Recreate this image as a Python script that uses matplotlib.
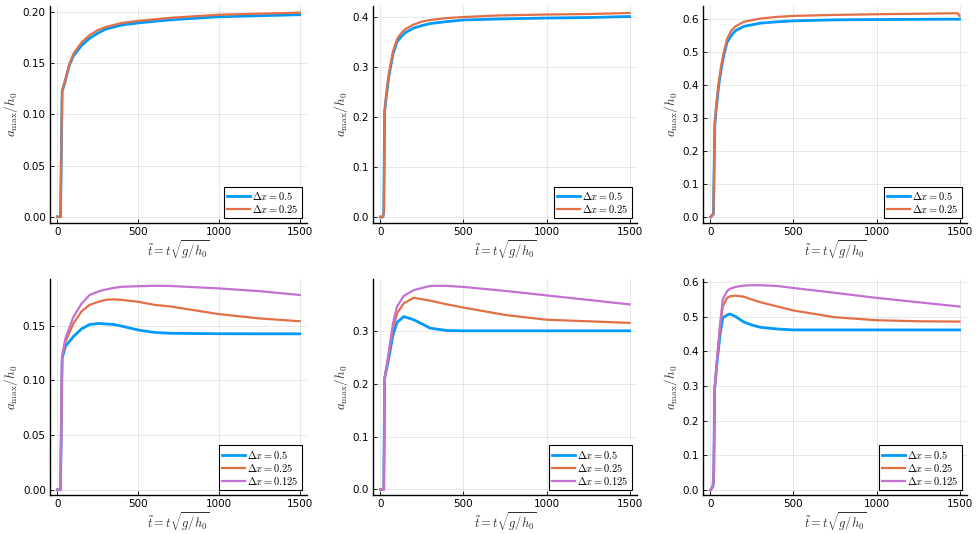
import matplotlib.pyplot as plt
import numpy as np

plt.rcParams['mathtext.fontset'] = 'cm'
plt.rcParams['font.family'] = 'DejaVu Sans'

BLUE = '#009AFA'
ORANGE = '#E36F47'
PURPLE = '#C371D2'

# ---- top row: two resolutions ----
t_tl = [0, 20, 25, 30, 50, 75, 100, 150, 200, 250, 300, 400, 500, 700, 1000, 1250, 1500]
tl_05 = [0, 0, 0.06, 0.122, 0.133, 0.148, 0.157, 0.167, 0.174, 0.179, 0.183, 0.187, 0.189, 0.192, 0.195, 0.196, 0.197]
tl_025 = [0, 0, 0.06, 0.123, 0.134, 0.149, 0.159, 0.170, 0.177, 0.182, 0.185, 0.189, 0.191, 0.194, 0.197, 0.198, 0.199]

t_tm = [0, 15, 20, 25, 35, 50, 75, 100, 125, 150, 200, 250, 300, 400, 500, 700, 1000, 1250, 1500]
tm_05 = [0, 0, 0.01, 0.21, 0.24, 0.28, 0.325, 0.35, 0.36, 0.368, 0.377, 0.382, 0.386, 0.39, 0.393, 0.395, 0.397, 0.398, 0.400]
tm_025 = [0, 0, 0.01, 0.21, 0.245, 0.285, 0.33, 0.355, 0.367, 0.375, 0.384, 0.39, 0.393, 0.397, 0.399, 0.402, 0.404, 0.405, 0.407]

t_tr = [0, 10, 18, 22, 26, 35, 50, 65, 80, 100, 125, 150, 200, 300, 400, 500, 750, 1000, 1490, 1500]
tr_05 = [0, 0.005, 0.01, 0.15, 0.28, 0.33, 0.40, 0.45, 0.49, 0.53, 0.55, 0.565, 0.578, 0.588, 0.592, 0.595, 0.598, 0.599, 0.600, 0.600]
tr_025 = [0, 0.005, 0.01, 0.15, 0.28, 0.34, 0.41, 0.46, 0.50, 0.54, 0.565, 0.578, 0.592, 0.602, 0.607, 0.610, 0.613, 0.615, 0.618, 0.610]

# ---- bottom row: three resolutions ----
t_bl = [0, 20, 25, 30, 50, 100, 150, 200, 260, 300, 350, 400, 500, 600, 700, 1000, 1250, 1500]
bl_05 = [0, 0, 0.06, 0.120, 0.131, 0.140, 0.147, 0.151, 0.152, 0.1515, 0.151, 0.1495, 0.146, 0.1438, 0.143, 0.1426, 0.1425, 0.1425]
bl_025 = [0, 0, 0.06, 0.122, 0.135, 0.152, 0.163, 0.169, 0.172, 0.1736, 0.174, 0.1735, 0.1718, 0.169, 0.1675, 0.1605, 0.1566, 0.154]
bl_0125 = [0, 0, 0.06, 0.122, 0.138, 0.158, 0.170, 0.178, 0.1815, 0.183, 0.1845, 0.1855, 0.186, 0.1864, 0.1862, 0.184, 0.1815, 0.178]

t_bm = [0, 20, 25, 50, 75, 100, 140, 200, 300, 400, 500, 750, 1000, 1250, 1500]
bm_05 = [0, 0, 0.21, 0.248, 0.292, 0.316, 0.327, 0.321, 0.305, 0.3006, 0.300, 0.300, 0.300, 0.300, 0.300]
bm_025 = [0, 0, 0.21, 0.255, 0.305, 0.333, 0.352, 0.3625, 0.357, 0.350, 0.344, 0.330, 0.321, 0.318, 0.315]
bm_0125 = [0, 0, 0.21, 0.26, 0.314, 0.346, 0.366, 0.377, 0.385, 0.385, 0.383, 0.3755, 0.367, 0.3585, 0.350]

t_br = [0, 15, 20, 25, 40, 58, 74, 100, 118, 150, 200, 250, 300, 400, 500, 750, 1000, 1250, 1500]
br_05 = [0, 0.01, 0.05, 0.29, 0.37, 0.45, 0.497, 0.505, 0.508, 0.501, 0.485, 0.476, 0.4696, 0.4648, 0.462, 0.462, 0.462, 0.462, 0.462]
br_025 = [0, 0.01, 0.05, 0.29, 0.38, 0.47, 0.53, 0.5545, 0.559, 0.561, 0.558, 0.5497, 0.542, 0.530, 0.518, 0.4986, 0.490, 0.487, 0.486]
br_0125 = [0, 0.01, 0.05, 0.29, 0.38, 0.48, 0.55, 0.574, 0.581, 0.586, 0.590, 0.591, 0.591, 0.589, 0.583, 0.569, 0.5545, 0.542, 0.5295]

labels = [r'$\Delta x = 0.5$', r'$\Delta x = 0.25$', r'$\Delta x = 0.125$']
colors = [BLUE, ORANGE, PURPLE]
widths = [2.0, 1.6, 1.6]

panels = [
    (t_tl, [tl_05, tl_025], (50, 6, 307, 223), (-0.006, 0.2055), np.arange(0, 0.201, 0.05), '%.2f'),
    (t_tm, [tm_05, tm_025], (373, 6, 637, 223), (-0.012, 0.421), np.arange(0, 0.41, 0.1), '%.1f'),
    (t_tr, [tr_05, tr_025], (703, 6, 967, 223), (-0.018, 0.640), np.arange(0, 0.61, 0.1), '%.1f'),
    (t_bl, [bl_05, bl_025, bl_0125], (50, 279, 307, 495), (-0.0048, 0.1926), np.arange(0, 0.151, 0.05), '%.2f'),
    (t_bm, [bm_05, bm_025, bm_0125], (373, 279, 637, 495), (-0.0105, 0.398), np.arange(0, 0.31, 0.1), '%.1f'),
    (t_br, [br_05, br_025, br_0125], (703, 279, 967, 495), (-0.0145, 0.609), np.arange(0, 0.61, 0.1), '%.1f'),
]

W, H = 979, 534
fig = plt.figure(figsize=(W / 100, H / 100), dpi=100)

for t, series, (x0, y0, x1, y1), ylim, yticks, fmt in panels:
    ax = fig.add_axes([x0 / W, 1 - y1 / H, (x1 - x0) / W, (y1 - y0) / H])
    for i, s in enumerate(series):
        ax.plot(t, s, color=colors[i], lw=widths[i], label=labels[i],
                solid_joinstyle='round')
    ax.set_xlim(-45, 1545)
    ax.set_ylim(*ylim)
    ax.set_xticks([0, 500, 1000, 1500])
    ax.set_yticks(yticks)
    ax.set_yticklabels([fmt % v for v in yticks])
    ax.grid(True, color='black', alpha=0.1, lw=0.6)
    for side in ['top', 'right']:
        ax.spines[side].set_visible(False)
    for side in ['left', 'bottom']:
        ax.spines[side].set_linewidth(1.0)
    ax.tick_params(direction='in', length=3, width=0.6, labelsize=7.5, pad=3)
    ax.set_xlabel(r'$\tilde{t} = t\sqrt{g/h_0}$', fontsize=9, color='#333333', labelpad=1)
    ax.set_ylabel(r'$a_{\max}/h_0$', fontsize=9.5, color='#333333', labelpad=2)
    leg = ax.legend(loc='lower right', fontsize=7.5, frameon=True, fancybox=False,
                    borderaxespad=0.5, handlelength=2.2, handletextpad=0.2,
                    borderpad=0.3, labelspacing=0.1)
    leg.get_frame().set_edgecolor('black')
    leg.get_frame().set_linewidth(0.8)
    leg.get_frame().set_alpha(1)

fig.savefig('out.png', dpi=100)
